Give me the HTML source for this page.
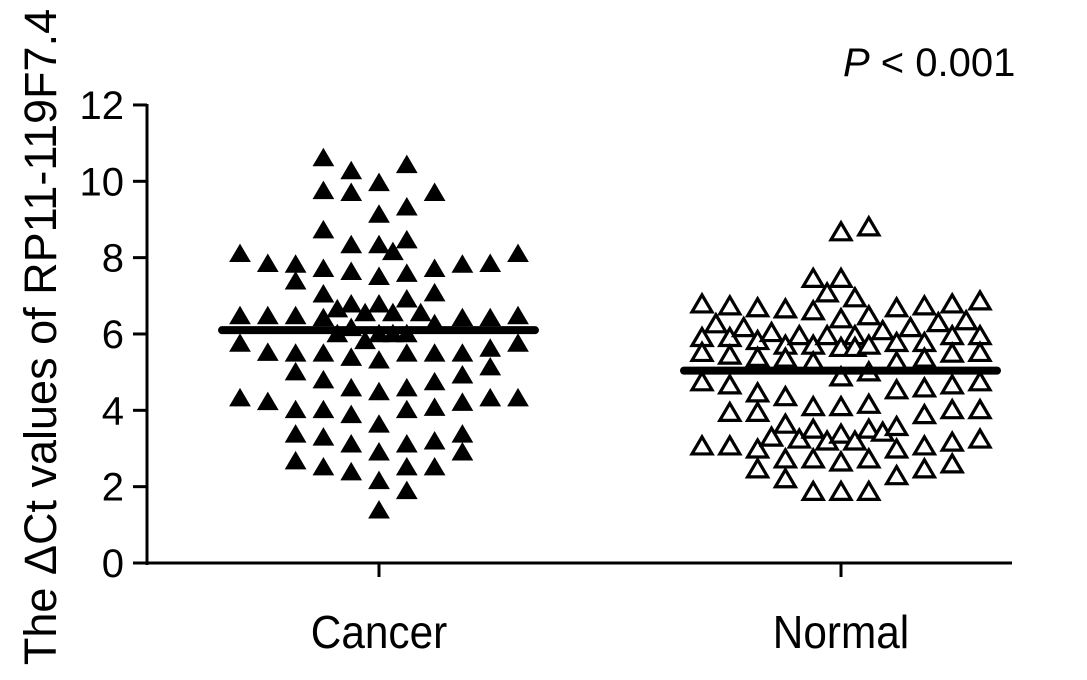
<!DOCTYPE html>
<html><head><meta charset="utf-8">
<style>
html,body{margin:0;padding:0;background:#fff;}
svg{display:block;font-family:"Liberation Sans",Arial,sans-serif;}
</style></head>
<body>
<svg id="chart" width="1087" height="680" viewBox="0 0 1087 680" xmlns="http://www.w3.org/2000/svg">
<g id="axes"></g>
<g id="marks"></g>
<text transform="translate(56,337) rotate(-90)" text-anchor="middle" font-size="45" fill="#000">The ΔCt values of RP11-119F7.4</text>
<text x="843" y="76" font-size="40" fill="#000"><tspan font-style="italic">P</tspan> &lt; 0.001</text>
</svg>
<script>
const groups = ["Cancer", "Normal"];
const yTicks = [0, 2, 4, 6, 8, 10, 12];
const groupMeans = [6.1, 5.04];
// values per jitter column (column index, then values)
const cancerCols = [-10,-8,-6,-4,-3,-2,-1,0,1,2,3,4,6,8,10];
const cancerVals = [
 [8.12,6.49,5.77,4.34],
 [7.86,6.49,5.53,4.24],
 [7.84,7.40,6.49,5.51,5.02,4.03,3.39,2.69],
 [10.63,9.77,8.74,7.73,7.06,6.44,5.51,4.81,4.03,3.31,2.53],
 [6.67,6.02],
 [10.29,9.72,8.35,7.65,6.80,6.18,5.40,4.60,3.90,3.13,2.40],
 [6.57,5.84],
 [9.98,9.15,8.35,7.52,6.80,6.02,5.33,4.50,3.65,2.92,2.17,1.40],
 [8.17,6.57,6.02],
 [10.45,9.34,8.48,7.60,6.93,6.02,5.51,4.60,4.03,3.13,2.53,1.91],
 [6.57],
 [9.72,7.73,7.09,6.28,5.51,4.76,4.09,3.21,2.53],
 [7.84,6.44,5.51,4.94,4.22,3.39,2.92],
 [7.86,6.44,5.64,5.15,4.34],
 [8.12,6.49,5.77,4.34]
];
const normalCols = [-10,-9,-8,-7,-6,-5,-4,-3,-2,-1,0,1,2,3,4,5,6,7,8,9,10];
const normalVals = [
 [6.80,5.92,5.53,4.76,3.08],
 [6.28],
 [6.75,5.92,5.46,4.68,3.96,3.08],
 [6.18],
 [6.70,5.84,5.40,4.47,3.96,3.00,2.48],
 [6.05,3.31],
 [6.67,5.72,5.38,4.37,3.65,2.74,2.22],
 [5.97,3.26],
 [7.47,6.62,5.72,5.28,4.11,3.52,2.74,1.89],
 [7.09,5.97,3.21],
 [8.69,7.47,6.41,5.66,4.89,4.11,3.39,2.66,1.89],
 [6.96,5.97,5.66,3.21],
 [8.82,6.49,5.72,5.02,4.17,3.52,2.74,1.89],
 [6.10,3.44],
 [6.70,5.79,5.28,4.55,3.59,3.00,2.30],
 [6.18],
 [6.75,5.79,5.38,4.60,3.90,3.08,2.48],
 [6.31],
 [6.80,5.97,5.51,4.68,4.03,3.18,2.61],
 [6.36],
 [6.88,5.97,5.53,4.76,4.03,3.26]
];

const NS = "http://www.w3.org/2000/svg";
const y0px = 563, pxPerUnit = 38.17;
function yScale(v){ return y0px - v * pxPerUnit; }
const groupCenters = [379, 841];
function xScale(g){ return groupCenters[g]; }
const colStep = 13.9;
function mk(tag, attrs, parent){ const e=document.createElementNS(NS,tag); for(const k in attrs) e.setAttribute(k,attrs[k]); parent.appendChild(e); return e; }

const axes = document.getElementById('axes');
const marks = document.getElementById('marks');
const yl = mk('line',{x1:147,y1:yScale(12)-1,x2:147,y2:y0px+2,stroke:'#000','stroke-width':3},axes);


const xl = mk('line',{x1:146,y1:y0px,x2:1012,y2:y0px,stroke:'#000','stroke-width':3},axes);


yTicks.forEach(t=>{
  const y=yScale(t);
  const tk = mk('line',{x1:133,y1:y,x2:147,y2:y,stroke:'#000','stroke-width':3},axes);
  
  
  const lb = mk('text',{x:124,y:y+14,'text-anchor':'end','font-size':40,fill:'#000'},axes);
  lb.textContent=String(t);
  
  
});
groups.forEach((g,i)=>{
  const x=xScale(i);
  const tk = mk('line',{x1:x,y1:y0px,x2:x,y2:y0px+14,stroke:'#000','stroke-width':3},axes);
  
  
  const lb = mk('text',{x:x,y:648,'text-anchor':'middle','font-size':46,fill:'#000',transform:`translate(${x},0) scale(0.92,1) translate(${-x},0)`},axes);
  lb.textContent=g;
  
  
});
function tri(cx, cy, filled){
  const w=10, h=8.5;
  const p = mk('polygon',{points:`${cx-w},${cy+h} ${cx+w},${cy+h} ${cx},${cy-h}`,
    fill: filled?'#000':'#fff', stroke:'#000','stroke-width': filled?1:3.2,'stroke-linejoin':'miter'},marks);
  return p;
}
function drawGroup(gi, cols, vals, filled){
  cols.forEach((c,ci)=>{
    vals[ci].forEach(v=>{
      const p = tri(xScale(gi)+c*colStep, yScale(v), filled);
      
      
    });
  });
}
drawGroup(0, cancerCols, cancerVals, true);
drawGroup(1, normalCols, normalVals, false);
groupMeans.forEach((m,i)=>{
  const x=xScale(i);
  const ln = mk('line',{x1:x-157,y1:yScale(m),x2:x+156,y2:yScale(m),stroke:'#000','stroke-width':8,'stroke-linecap':'round'},marks);
  
  
});
</script>
</body></html>
